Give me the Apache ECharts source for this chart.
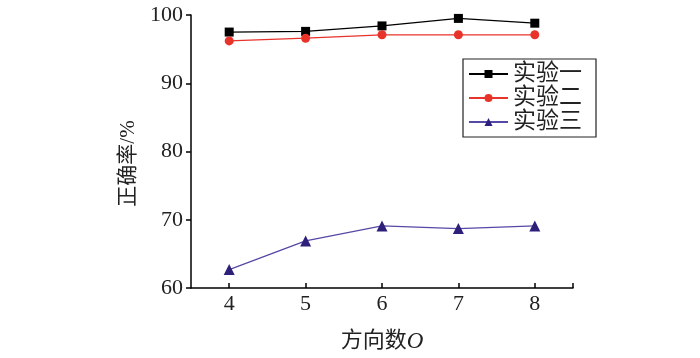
<!DOCTYPE html>
<html><head><meta charset="utf-8">
<script src="https://cdn.jsdelivr.net/npm/echarts@6/dist/echarts.min.js"></script>
<style>html,body{margin:0;padding:0;background:#fff}#c{width:700px;height:358px}</style>
</head><body><div id="c"></div>
<script>
const categories = [4, 5, 6, 7, 8];
const seriesNames = ['实验一', '实验二', '实验三'];
const exp1 = [97.5, 97.6, 98.4, 99.5, 98.8];
const exp2 = [96.2, 96.6, 97.1, 97.1, 97.1];
const exp3 = [62.7, 66.9, 69.1, 68.7, 69.1];
const yTicks = [60, 70, 80, 90, 100];

const FONT = '"Liberation Serif", "Noto Sans CJK SC", serif';
const pairs = arr => categories.map((c, i) => [c, arr[i]]);
const chart = echarts.init(document.getElementById('c'), null, {renderer: 'canvas'});
chart.setOption({
  animation: false,
  backgroundColor: '#fff',
  grid: {left: 191, right: 127, top: 15, bottom: 67, containLabel: false},
  legend: {
    orient: 'vertical', left: 463, top: 59,
    padding: [3, 14, 3, 5], itemGap: 0,
    itemWidth: 39, itemHeight: 10,
    borderColor: '#222', borderWidth: 1.2,
    textStyle: {fontFamily: FONT, fontSize: 23, color: '#222', lineHeight: 24, padding: [0, 0, 0, 0]},
    data: seriesNames
  },
  xAxis: {
    type: 'value', min: 3.5, max: 8.5,
    name: '{a|方向数}{b|O}', nameLocation: 'middle', nameGap: 42,
    nameTextStyle: {rich: {a: {fontFamily: FONT, fontSize: 22, color: '#222'}, b: {fontFamily: '"Liberation Serif", serif', fontStyle: 'italic', fontSize: 23, color: '#222'}}},
    axisLine: {lineStyle: {color: '#000', width: 1.5}},
    axisTick: {inside: true, length: 5, lineStyle: {color: '#000', width: 1.5}, customValues: [4, 5, 6, 7, 8, 8.5]},
    axisLabel: {fontFamily: FONT, fontSize: 22, color: '#222', margin: 5, customValues: categories},
    splitLine: {show: false}
  },
  yAxis: {
    type: 'value', min: yTicks[0], max: yTicks[yTicks.length - 1], interval: 10,
    name: '正确率/%', nameLocation: 'middle', nameGap: 49,
    nameTextStyle: {fontFamily: FONT, fontSize: 21, color: '#222', padding: [0, 24, 0, 0]},
    axisLine: {show: true, lineStyle: {color: '#000', width: 1.5}},
    axisTick: {show: true, inside: false, length: 5, lineStyle: {color: '#000', width: 1.5}},
    axisLabel: {fontFamily: FONT, fontSize: 22, color: '#222', margin: 8},
    splitLine: {show: false}
  },
  series: [
    {name: seriesNames[0], type: 'line', data: pairs(exp1), symbol: 'rect', symbolSize: 9,
     lineStyle: {color: '#000', width: 1.3}, itemStyle: {color: '#000'}},
    {name: seriesNames[1], type: 'line', data: pairs(exp2), symbol: 'circle', symbolSize: 9,
     lineStyle: {color: '#e8332b', width: 1.3}, itemStyle: {color: '#e8332b'}},
    {name: seriesNames[2], type: 'line', data: pairs(exp3), symbol: 'triangle', symbolSize: 11,
     lineStyle: {color: '#5549a6', width: 1.3}, itemStyle: {color: '#2e1f7a'}}
  ]
});
</script></body></html>
